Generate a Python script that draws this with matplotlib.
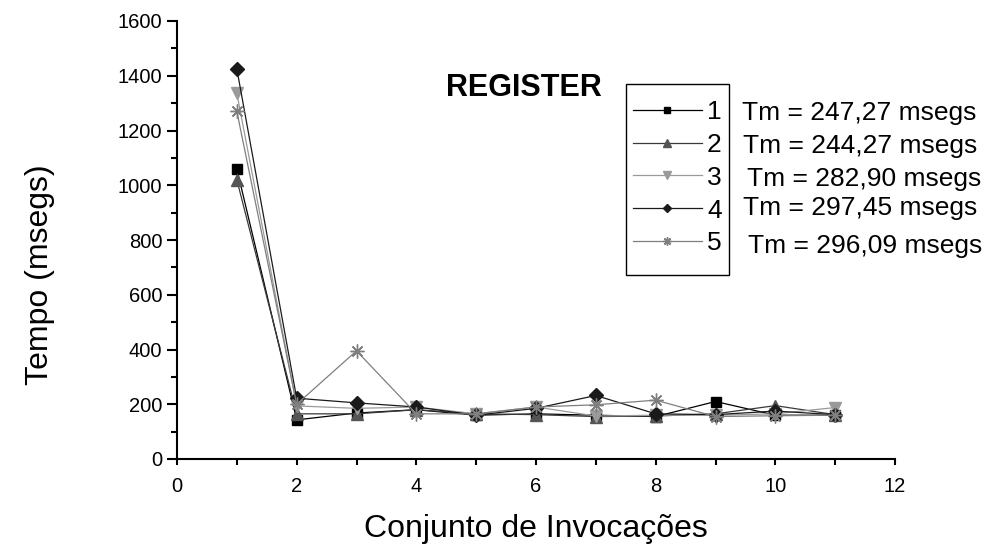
import matplotlib
matplotlib.use("Agg")
import matplotlib.pyplot as plt
from matplotlib.ticker import MultipleLocator
from matplotlib.patches import Rectangle

plt.rcParams['font.family'] = ['Liberation Sans', 'DejaVu Sans']

x = [1, 2, 3, 4, 5, 6, 7, 8, 9, 10, 11]
s1 = [1060, 143, 168, 180, 160, 165, 160, 155, 210, 160, 160]
s2 = [1020, 165, 165, 180, 165, 162, 155, 157, 165, 195, 162]
s3 = [1336, 194, 185, 190, 165, 190, 157, 160, 160, 165, 188]
s4 = [1425, 222, 205, 190, 160, 185, 232, 165, 162, 175, 162]
s5 = [1270, 200, 395, 165, 165, 190, 198, 215, 155, 158, 160]
labels = ['1', '2', '3', '4', '5']
tm_texts = ['Tm = 247,27 msegs', 'Tm = 244,27 msegs', 'Tm = 282,90 msegs',
            'Tm = 297,45 msegs', 'Tm = 296,09 msegs']

styles = [
    dict(color='#000000', marker='s', markersize=7, mfc='#000000', mec='#000000'),
    dict(color='#3a3a3a', marker='^', markersize=9, mfc='#555555', mec='#555555'),
    dict(color='#9a9a9a', marker='v', markersize=9, mfc='#9a9a9a', mec='#9a9a9a'),
    dict(color='#1a1a1a', marker='D', markersize=7, mfc='#1a1a1a', mec='#1a1a1a'),
    dict(color='#7f7f7f', marker=(8, 2, 0), markersize=10, mfc='#7f7f7f', mec='#7f7f7f', mew=1.0),
]

fig = plt.figure(figsize=(9.89, 5.57), dpi=100)
ax = fig.add_axes([177/989, (557-459)/557, (895-177)/989, (459-21)/557])

for ys, lab, st in zip([s1, s2, s3, s4, s5], labels, styles):
    ax.plot(x, ys, lw=0.9, label=lab, **st)

ax.set_xlim(0, 12)
ax.set_ylim(0, 1600)
ax.xaxis.set_major_locator(MultipleLocator(2))
ax.xaxis.set_minor_locator(MultipleLocator(1))
ax.yaxis.set_major_locator(MultipleLocator(200))
ax.yaxis.set_minor_locator(MultipleLocator(100))
for side in ['top', 'right']:
    ax.spines[side].set_visible(False)
for side in ['left', 'bottom']:
    ax.spines[side].set_linewidth(1.5)
ax.tick_params(axis='both', which='major', labelsize=14.5, width=1.5, direction='out')
ax.tick_params(axis='x', which='both', length=4, width=1.5)
ax.tick_params(axis='x', which='major', pad=9)
ax.tick_params(axis='y', which='major', length=7)
ax.tick_params(axis='y', which='minor', length=4, width=1.5)

ax.set_xlabel('Conjunto de Invocações', fontsize=23)
ax.set_ylabel('Tempo (msegs)', fontsize=23)
ax.xaxis.set_label_coords(0.5, -0.125)
ax.yaxis.set_label_coords(-0.17, 0.42)

fig.text(524/989, 1-88/557, 'REGISTER', fontsize=22, fontweight='bold', ha='center', va='center')

leg = ax.legend(loc='upper left', bbox_to_anchor=(633/989, 1-100/557), bbox_transform=fig.transFigure,
                fontsize=19, frameon=False,
                handlelength=2.6, handletextpad=0.2, labelspacing=0.335, borderpad=0,
                borderaxespad=0, markerscale=0.6)

fig.patches.append(Rectangle((626/989, 1-275/557), (729-626)/989, (275-84)/557,
                             transform=fig.transFigure, fill=False, edgecolor='black', lw=1.0))

tm_x = [742, 743, 747, 743, 748]
tm_y = [113, 146, 179, 208, 246]
for t, tx, ty in zip(tm_texts, tm_x, tm_y):
    fig.text(tx/989, 1-ty/557, t, fontsize=19, ha='left', va='center')

fig.savefig('out.png', dpi=100)
